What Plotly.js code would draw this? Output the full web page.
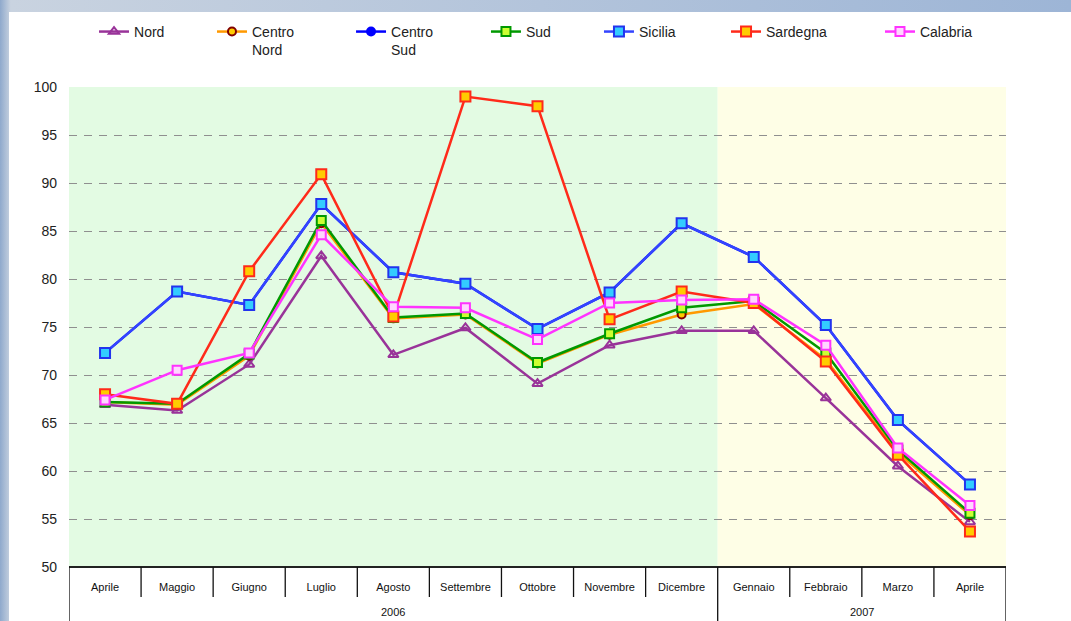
<!DOCTYPE html>
<html>
<head>
<meta charset="utf-8">
<script src="https://cdn.plot.ly/plotly-3.0.1.min.js"></script>
<style>
  html, body { margin:0; padding:0; width:1071px; height:621px; overflow:hidden;
    background: linear-gradient(90deg, #8fa9cc 0%, #c9d3e0 1%, #9db5d6 100%); }
  #panel { position:absolute; left:9px; top:12px; width:1062px; height:609px; background:#ffffff; }
  #chart { position:absolute; left:0; top:0; width:1071px; height:621px; }
</style>
</head>
<body>
<div id="panel"></div>
<div id="chart"></div>
<script>
const months = ['Aprile','Maggio','Giugno','Luglio','Agosto','Settembre','Ottobre','Novembre','Dicembre','Gennaio','Febbraio','Marzo','Aprile'];
const years  = ['2006','2006','2006','2006','2006','2006','2006','2006','2006','2007','2007','2007','2007'];

const nord       = [66.9, 66.3, 71.1, 82.4, 72.1, 74.9, 69.1, 73.1, 74.6, 74.6, 67.6, 60.5, 54.7];
const centroNord = [67.2, 66.9, 72.0, 85.8, 75.9, 76.3, 71.2, 74.2, 76.3, 77.4, 71.6, 61.9, 55.4];
const centroSud  = [72.3, 78.7, 77.3, 87.8, 80.7, 79.5, 74.8, 78.6, 85.8, 82.3, 75.2, 65.3, 58.6];
const sud        = [67.2, 67.0, 72.2, 86.1, 76.0, 76.4, 71.3, 74.3, 77.0, 77.7, 72.3, 62.2, 55.6];
const sicilia    = [72.3, 78.7, 77.3, 87.8, 80.7, 79.5, 74.8, 78.6, 85.8, 82.3, 75.2, 65.3, 58.6];
const sardegna   = [68.0, 67.0, 80.8, 90.9, 76.1, 99.0, 98.0, 75.8, 78.7, 77.5, 71.4, 61.7, 53.7];
const calabria   = [67.4, 70.5, 72.3, 84.6, 77.1, 77.0, 73.7, 77.5, 77.8, 77.9, 73.1, 62.4, 56.4];

const seriesNames = ['Nord', 'Centro<br>Nord', 'Centro<br>Sud', 'Sud', 'Sicilia', 'Sardegna', 'Calabria'];

const idx = months.map((_, i) => i);
const n = months.length;

// legend x positions (paper fraction of plot width) – layout only
const legendX = [0.0267, 0.1526, 0.301, 0.445, 0.5656, 0.7012, 0.8655];

function tr(k, y, lineColor, symbol, mLine, mFill, size) {
  return {
    type:'scatter', mode:'lines+markers', name:seriesNames[k], x:idx, y:y,
    legend: k === 0 ? 'legend' : 'legend' + (k + 1),
    line:{color:lineColor, width:2.5},
    marker:{symbol:symbol, size:size || 9, color:mFill, line:{color:mLine, width:2}}
  };
}

const data = [
  tr(0, nord, '#993399', 'triangle-up-open', '#993399', '#993399', 9),
  tr(1, centroNord, '#FF9900', 'circle', '#800000', '#FFCC00', 8),
  tr(2, centroSud, '#0000FF', 'circle', '#0000FF', '#0000FF', 8),
  tr(3, sud, '#009900', 'square', '#009900', '#CCFF33', 9),
  tr(4, sicilia, '#3344FF', 'square', '#2233EE', '#33CCFF', 10),
  tr(5, sardegna, '#FF2A1A', 'square', '#FF2A1A', '#FFCC00', 10),
  tr(6, calabria, '#FF33FF', 'square', '#FF33FF', '#FFD6FF', 9)
];

// year groups
const groups = [];
years.forEach((yr, i) => {
  const g = groups[groups.length - 1];
  if (g && g.year === yr) g.end = i; else groups.push({year: yr, start: i, end: i});
});

const splitIdx = groups[0].end + 0.5;
const rowH = 30 / 480;
const fullH = 56 / 480;

const shapes = [
  {type:'rect', xref:'x', yref:'paper', layer:'below',
   x0:-0.55, x1:splitIdx, y0:0, y1:1, fillcolor:'#E3FBE3', line:{width:0}},
  {type:'rect', xref:'x', yref:'paper', layer:'below',
   x0:splitIdx, x1:n - 0.5, y0:0, y1:1, fillcolor:'#FEFEE6', line:{width:0}},
  {type:'line', xref:'x', yref:'paper', x0:-0.5, x1:n - 0.5, y0:0, y1:0,
   line:{color:'#222', width:2}}
];
for (let i = 0; i <= n; i++) {
  const b = i - 0.5;
  const isGroupEdge = groups.some(g => g.start - 0.5 === b || g.end + 0.5 === b);
  shapes.push({type:'line', xref:'x', yref:'paper', x0:b, x1:b, y0:0,
               y1: isGroupEdge ? -fullH : -rowH, line:{color:'#111', width:1.3}});
}

const annotations = groups.map(g => ({
  xref:'x', yref:'paper', x:(g.start + g.end) / 2, y:-45 / 480, yanchor:'middle',
  text:g.year, showarrow:false, font:{size:11, color:'#111'}
}));

const layout = {
  width:1071, height:621,
  margin:{l:69, r:65, t:87, b:54},
  paper_bgcolor:'rgba(0,0,0,0)', plot_bgcolor:'rgba(0,0,0,0)',
  font:{family:'Liberation Sans, Arial, sans-serif', color:'#111'},
  showlegend:true,
  xaxis:{range:[-0.5, n - 0.5], tickvals:idx, ticktext:months, ticks:'', ticklabelstandoff:12,
         showline:false, showgrid:false, zeroline:false,
         tickfont:{size:11, color:'#111'}},
  yaxis:{range:[50,100], dtick:5, tick0:50, showgrid:true, gridcolor:'#8f8f8f', gridwidth:1,
         griddash:'8px,7px', zeroline:false, showline:false, ticks:'', ticklabelstandoff:11,
         tickfont:{size:14, color:'#222'}},
  shapes:shapes,
  annotations:annotations
};

legendX.forEach((lx, k) => {
  const key = k === 0 ? 'legend' : 'legend' + (k + 1);
  layout[key] = {orientation:'h', x:lx, xanchor:'left', y:1.148, yanchor:'top',
                 font:{size:14, color:'#222'}, itemwidth:30, valign:'top',
                 bgcolor:'rgba(0,0,0,0)'};
});

Plotly.newPlot('chart', data, layout, {displayModeBar:false, staticPlot:true});
</script>
</body>
</html>
